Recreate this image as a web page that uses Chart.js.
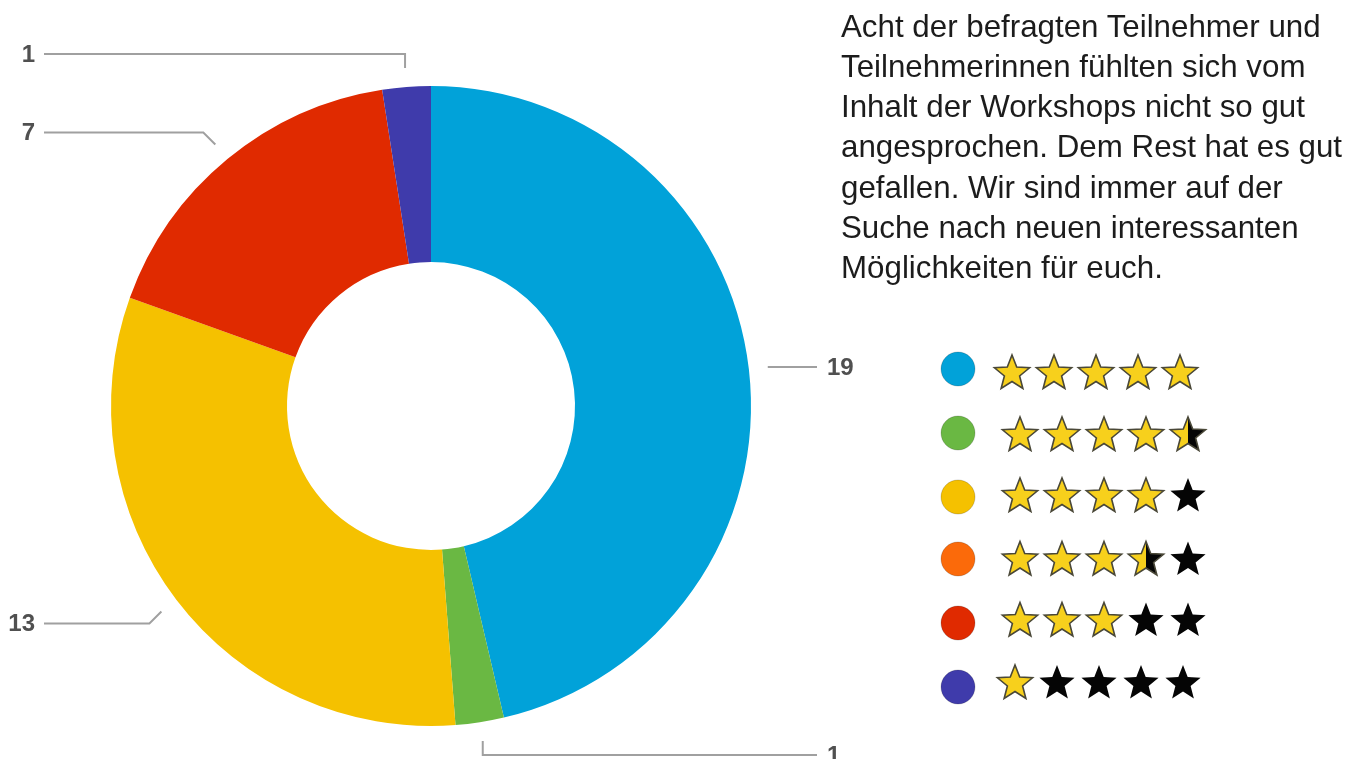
<!DOCTYPE html>
<html><head><meta charset="utf-8">
<script src="https://cdn.jsdelivr.net/npm/chart.js@4/dist/chart.umd.min.js"></script>
<style>
html,body{margin:0;padding:0;background:#fff;overflow:hidden;}
#wrap{position:relative;width:1365px;height:759px;}
#c{position:absolute;left:0;top:0;}
#txt{position:absolute;left:841px;top:6.5px;font-family:"Liberation Sans",Arial,sans-serif;font-size:31.3px;line-height:40.3px;color:#1c1c1c;white-space:nowrap;}
</style></head><body>
<div id="wrap"><canvas id="c" width="1365" height="759"></canvas>
<div id="txt">Acht der befragten Teilnehmer und<br>Teilnehmerinnen fühlten sich vom<br>Inhalt der Workshops nicht so gut<br>angesprochen. Dem Rest hat es gut<br>gefallen. Wir sind immer auf der<br>Suche nach neuen interessanten<br>Möglichkeiten für euch.</div></div>
<script>
// ---- data ----
const categories = ['5 Sterne', '4,5 Sterne', '4 Sterne', '3,5 Sterne', '3 Sterne', '1 Stern'];
const counts = [19, 1, 13, 0, 7, 1];
const starRatings = [5, 4.5, 4, 3.5, 3, 1];
const sliceColors = ['#01a2d9', '#6ab843', '#f5c100', '#fb6a0a', '#e02a00', '#3f3bab'];

// ---- layout ----
const legendCircleX = 958, legendCircleR = 17;
const legendCircleY = [369, 433, 497, 559, 623, 687];
const starRowY = [373.5, 435.5, 496.5, 560, 621, 683.5];
const starRowX = [1012, 1020, 1020, 1020, 1020, 1015];
const starPitch = 42, starR = 18.5, starInner = 8;

function starPath(ctx, cx, cy, R, r) {
  ctx.beginPath();
  for (let i = 0; i < 10; i++) {
    const a = -Math.PI / 2 + i * Math.PI / 5;
    const rad = i % 2 === 0 ? R : r;
    const px = cx + Math.cos(a) * rad, py = cy + Math.sin(a) * rad;
    if (i === 0) ctx.moveTo(px, py); else ctx.lineTo(px, py);
  }
  ctx.closePath();
}

const overlay = {
  id: 'overlay',
  afterDraw(chart) {
    const ctx = chart.ctx;
    const meta = chart.getDatasetMeta(0);
    ctx.save();
    // leader lines + labels
    meta.data.forEach((arc, i) => {
      const v = counts[i];
      if (!v) return;
      const p = arc.getProps(['x', 'y', 'startAngle', 'endAngle', 'outerRadius'], true);
      const mid = (p.startAngle + p.endAngle) / 2;
      const c = Math.cos(mid), s = Math.sin(mid);
      const ax = p.x + c * (p.outerRadius + 19), ay = p.y + s * (p.outerRadius + 19);
      let ex = ax, ey = ay;
      if (Math.abs(s) < 0.3) { /* straight */ }
      else if (Math.abs(c) < 0.3) { ey = ay + Math.sign(s) * 14; }
      else { ey = ay + Math.sign(s) * 12; ex = ax + Math.sign(c) * 12; }
      const left = c < 0;
      const endX = left ? 44 : 817;
      ctx.strokeStyle = '#a0a0a0';
      ctx.lineWidth = 2;
      ctx.beginPath();
      ctx.moveTo(ax, ay); ctx.lineTo(ex, ey); ctx.lineTo(endX, ey);
      ctx.stroke();
      ctx.fillStyle = '#505050';
      ctx.font = 'bold 24px "Liberation Sans", Arial, sans-serif';
      ctx.textBaseline = 'middle';
      ctx.textAlign = left ? 'right' : 'left';
      ctx.fillText(String(v), left ? 35 : 827, ey + 1);
    });
    // legend
    categories.forEach((cat, i) => {
      ctx.beginPath();
      ctx.arc(legendCircleX, legendCircleY[i], legendCircleR, 0, Math.PI * 2);
      ctx.fillStyle = sliceColors[i];
      ctx.fill();
      ctx.strokeStyle = 'rgba(0,0,0,0.18)';
      ctx.lineWidth = 1;
      ctx.stroke();
      const rating = starRatings[i];
      for (let k = 0; k < 5; k++) {
        const cx = starRowX[i] + k * starPitch, cy = starRowY[i];
        const fillAmt = Math.max(0, Math.min(1, rating - k));
        starPath(ctx, cx, cy, starR, starInner);
        ctx.fillStyle = '#050505';
        ctx.fill();
        if (fillAmt > 0) {
          ctx.save();
          ctx.beginPath();
          ctx.rect(cx - starR - 2, cy - starR - 2, (starR + 2) * 2 * (fillAmt === 1 ? 1 : 0.5), starR * 2 + 4);
          ctx.clip();
          starPath(ctx, cx, cy, starR, starInner);
          ctx.fillStyle = '#f7d01c';
          ctx.fill();
          ctx.restore();
          starPath(ctx, cx, cy, starR, starInner);
          ctx.strokeStyle = '#4a4838';
          ctx.lineWidth = 1.6;
          ctx.lineJoin = 'miter';
          ctx.stroke();
        }
      }
    });
    ctx.restore();
  }
};

new Chart(document.getElementById('c'), {
  type: 'doughnut',
  data: {
    labels: categories,
    datasets: [{
      data: counts,
      backgroundColor: sliceColors,
      borderWidth: 0,
      hoverOffset: 0
    }]
  },
  options: {
    responsive: false,
    animation: false,
    cutout: '45%',
    layout: { padding: { left: 111, top: 86, right: 614, bottom: 33 } },
    plugins: { legend: { display: false }, tooltip: { enabled: false } }
  },
  plugins: [overlay]
});
</script>
</body></html>
